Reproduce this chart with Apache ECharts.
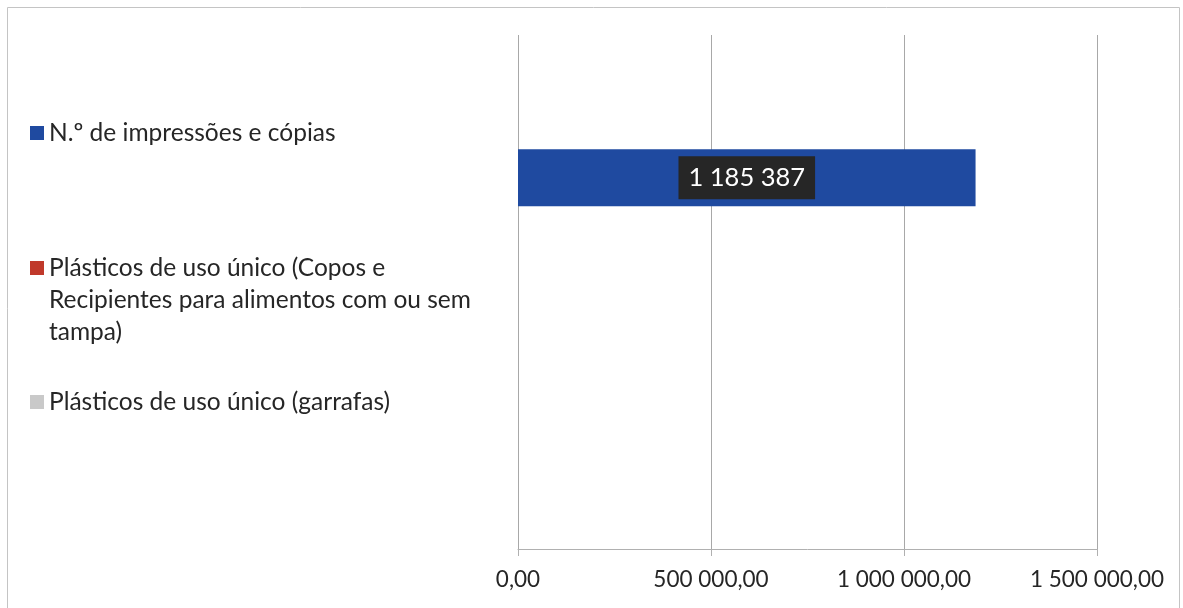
<!DOCTYPE html>
<html>
<head>
<meta charset="utf-8">
<script src="https://cdn.jsdelivr.net/npm/echarts@6/dist/echarts.min.js"></script>
<style>
  html, body { margin: 0; padding: 0; background: #fff; }
  #chart { width: 1183px; height: 608px; }
</style>
</head>
<body>
<div id="chart"></div>
<script>
// dados do gráfico
var categorias = ['g1', 'g2', 'g3'];
var nomes = [
  'N.º de impressões e cópias',
  'Plásticos de uso único (Copos e Recipientes para alimentos com ou sem tampa)',
  'Plásticos de uso único (garrafas)'
];
var nomeQuebrado = 'Plásticos de uso único (Copos e\nRecipientes para alimentos com ou sem\ntampa)';
var impressoes = [1185387, null, null];
var copos = [0, null, null];
var garrafas = [0, null, null];
var eixoMax = 1500000;
var eixoIntervalo = 500000;

var cores = ['#1f4aa0', '#c0392b', '#c9c9c9'];
var fonte = 'Lato';

function milhares(v) {
  return String(Math.round(v)).replace(/\B(?=(\d{3})+(?!\d))/g, ' ');
}

function legenda(nome, top, fmt) {
  var l = {
    orient: 'vertical',
    left: 30,
    top: top,
    padding: 0,
    itemWidth: 14,
    itemHeight: 14,
    icon: 'rect',
    data: [nome],
    selectedMode: false,
    textStyle: {
      fontFamily: fonte,
      fontSize: 24.5,
      lineHeight: 32,
      color: '#262626'
    }
  };
  if (fmt) l.formatter = fmt;
  return l;
}

var chart = echarts.init(document.getElementById('chart'));

var option = {
  animation: false,
  backgroundColor: '#fff',
  graphic: [{
    type: 'rect',
    shape: { x: 7.5, y: 7.5, width: 1172, height: 640 },
    style: { fill: 'none', stroke: '#c4c4c4', lineWidth: 1 },
    silent: true
  }],
  legend: [
    legenda(nomes[0], 117),
    // duas linhas vazias em cima para o ícone ficar na 1.ª linha
    legenda(nomes[1], 188, function () { return '\n\n' + nomeQuebrado; }),
    legenda(nomes[2], 386)
  ],
  grid: {
    left: 518,
    right: 86,
    top: 35,
    bottom: 59
  },
  xAxis: {
    type: 'value',
    min: 0,
    max: eixoMax,
    interval: eixoIntervalo,
    axisLine: { show: true, lineStyle: { color: '#b0b0b0', width: 1 } },
    axisTick: { show: true, length: 7, lineStyle: { color: '#b0b0b0' } },
    splitLine: { show: true, lineStyle: { color: '#a8a8a8', width: 1 } },
    axisLabel: {
      margin: 19,
      fontFamily: fonte,
      fontSize: 22.5,
      color: '#262626',
      formatter: function (v) { return milhares(v) + ',00'; }
    }
  },
  yAxis: {
    type: 'category',
    inverse: true,
    data: categorias,
    axisLine: { show: false },
    axisTick: { show: false },
    axisLabel: { show: false }
  },
  series: [{
    name: nomes[2],
    type: 'bar',
    data: garrafas,
    itemStyle: { color: cores[2] },
    barGap: '0%',
    barCategoryGap: '0%'
  }, {
    name: nomes[1],
    type: 'bar',
    data: copos,
    itemStyle: { color: cores[1] },
    barGap: '0%',
    barCategoryGap: '0%'
  }, {
    name: nomes[0],
    type: 'bar',
    data: impressoes,
    itemStyle: { color: cores[0] },
    barGap: '0%',
    barCategoryGap: '0%',
    label: {
      show: true,
      position: 'inside',
      fontFamily: fonte,
      fontSize: 25.5,
      lineHeight: 25,
      color: '#fff',
      backgroundColor: '#262626',
      padding: [9, 10],
      formatter: function (p) { return milhares(p.value); }
    }
  }]
};

chart.setOption(option);
</script>
</body>
</html>
